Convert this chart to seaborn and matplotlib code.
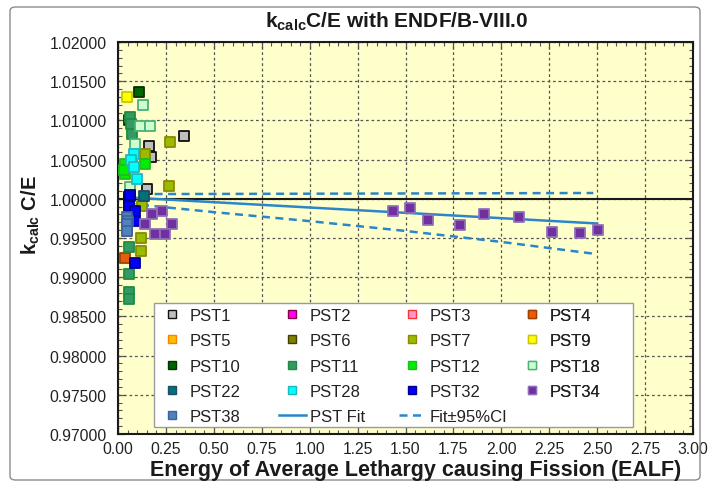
import matplotlib
matplotlib.use("Agg")
import matplotlib.pyplot as plt
import seaborn as sns
import pandas as pd
from matplotlib.lines import Line2D
from matplotlib.patches import Rectangle, FancyBboxPatch
from matplotlib.ticker import MultipleLocator, FormatStrFormatter

# ---------------- data ----------------
series_names = ["PST1", "PST2", "PST3", "PST4", "PST5", "PST6", "PST7", "PST9",
                "PST10", "PST11", "PST12", "PST18", "PST22", "PST28", "PST32",
                "PST34", "PST38"]

pst1_x = [0.346, 0.160, 0.170, 0.151]
pst1_y = [1.00805, 1.00677, 1.00529, 1.00125]
pst2_x = [0.059]
pst2_y = [0.99912]
pst3_x = [0.047]
pst3_y = [0.99679]
pst4_x = [0.038]
pst4_y = [0.99245]
pst5_x = [0.047]
pst5_y = [0.99593]
pst6_x = [0.059]
pst6_y = [1.00019]
pst7_x = [0.271, 0.142, 0.264, 0.125, 0.120, 0.122]
pst7_y = [1.00720, 1.00571, 1.00167, 0.99912, 0.99495, 0.99338]
pst9_x = [0.045]
pst9_y = [1.01302]
pst10_x = [0.111, 0.058]
pst10_y = [1.01366, 1.01010]
pst11_x = [0.063, 0.071, 0.066, 0.055, 0.055, 0.055, 0.055]
pst11_y = [1.01040, 1.00827, 1.00960, 0.99381, 0.99041, 0.98807, 0.98722]
pst12_x = [0.038, 0.038, 0.143, 0.030]
pst12_y = [1.00444, 1.00316, 1.00444, 1.00370]
pst18_x = [0.132, 0.115, 0.167, 0.090, 0.064]
pst18_y = [1.01200, 1.00925, 1.00925, 1.00699, 1.00147]
pst22_x = [0.134, 0.062]
pst22_y = [1.00040, 1.00030]
pst28_x = [0.082, 0.070, 0.086, 0.099]
pst28_y = [1.00571, 1.00500, 1.00401, 1.00253]
pst32_x = [0.059, 0.059, 0.090, 0.090, 0.089, 0.062]
pst32_y = [1.00019, 0.99912, 0.99848, 0.99721, 0.99181, 1.00050]
pst34_x = [0.177, 0.229, 0.142, 0.282, 0.195, 0.247,
           1.436, 1.523, 1.619, 1.784, 1.909, 2.093, 2.266, 2.410, 2.502]
pst34_y = [0.99806, 0.99848, 0.99679, 0.99679, 0.99551, 0.99551,
           0.99848, 0.99879, 0.99730, 0.99670, 0.99806, 0.99764, 0.99580, 0.99564, 0.99606]
pst38_x = [0.047, 0.050, 0.047, 0.047]
pst38_y = [0.99764, 0.99720, 0.99679, 0.99593]

fit_x = [0.05, 2.50]
fit_y = [1.00018, 0.99685]
ci_x = [0.05, 0.50, 1.00, 1.50, 2.00, 2.48]
ci_upper = [1.00060, 1.00062, 1.00065, 1.00068, 1.00071, 1.00074]
ci_lower = [0.99940, 0.99830, 0.99715, 0.99590, 0.99450, 0.99300]

x_ticks = [0.00, 0.25, 0.50, 0.75, 1.00, 1.25, 1.50, 1.75, 2.00, 2.25, 2.50, 2.75, 3.00]
y_ticks = [0.970, 0.975, 0.980, 0.985, 0.990, 0.995, 1.000, 1.005, 1.010, 1.015, 1.020]

series_x = [pst1_x, pst2_x, pst3_x, pst4_x, pst5_x, pst6_x, pst7_x, pst9_x, pst10_x,
            pst11_x, pst12_x, pst18_x, pst22_x, pst28_x, pst32_x, pst34_x, pst38_x]
series_y = [pst1_y, pst2_y, pst3_y, pst4_y, pst5_y, pst6_y, pst7_y, pst9_y, pst10_y,
            pst11_y, pst12_y, pst18_y, pst22_y, pst28_y, pst32_y, pst34_y, pst38_y]

# ---------------- styles ----------------
face = {"PST1": "#BFBFBF", "PST2": "#FF00FF", "PST3": "#FF99CC", "PST4": "#E85C0C",
        "PST5": "#FFC000", "PST6": "#7F7F00", "PST7": "#9BBB00", "PST9": "#FFFF00",
        "PST10": "#006400", "PST11": "#339966", "PST12": "#00EE00", "PST18": "#CCFFCC",
        "PST22": "#00707A", "PST28": "#00FFFF", "PST32": "#0000FF", "PST34": "#7030A0",
        "PST38": "#4F81BD"}
edge = {"PST1": "#111111", "PST2": "#8B0040", "PST3": "#FF3030", "PST4": "#A04000",
        "PST5": "#FF7F00", "PST6": "#3F3F00", "PST7": "#8A8A00", "PST9": "#C8C800",
        "PST10": "#003300", "PST11": "#1E8C3C", "PST12": "#22BB22", "PST18": "#4CB07A",
        "PST22": "#1F4E60", "PST28": "#20B8C0", "PST32": "#00008B", "PST34": "#9070B8",
        "PST38": "#3A62A0"}
fit_color = "#2B86C9"

plt.rcParams["font.family"] = ["Liberation Sans", "DejaVu Sans"]
plt.rcParams["mathtext.fontset"] = "custom"
plt.rcParams["mathtext.rm"] = "Liberation Sans"
plt.rcParams["mathtext.bf"] = "Liberation Sans:bold"
plt.rcParams["mathtext.it"] = "Liberation Sans:italic"

fig = plt.figure(figsize=(7.10, 4.89), dpi=100)
ax = fig.add_axes([118 / 710, 1 - 435 / 489, 575 / 710, 392 / 489])
ax.set_facecolor("#FFFFCC")

# outer chart border
fig.patches.append(FancyBboxPatch((10 / 710, 8 / 489), 690 / 710, 473 / 489,
                                  boxstyle="round,pad=0,rounding_size=0.008",
                                  transform=fig.transFigure, fill=False,
                                  edgecolor="#8C8C8C", linewidth=1.0))

ax.set_xlim(0, 3.0)
ax.set_ylim(0.970, 1.020)

# grid
ax.set_xticks(x_ticks)
ax.set_yticks(y_ticks)
ax.grid(True, which="major", color="#555555", linestyle=(0, (2.2, 2.2)), linewidth=0.9)
ax.set_axisbelow(True)

# reference line at 1.0
sns.lineplot(x=[0.0, 3.0], y=[1.0, 1.0], ax=ax, color="#1A1A1A", linewidth=1.5,
             zorder=2, legend=False)
# fit and CI
sns.lineplot(x=fit_x, y=fit_y, ax=ax, color=fit_color, linewidth=1.8, zorder=2.2,
             legend=False, estimator=None, sort=False)
sns.lineplot(x=ci_x, y=ci_upper, ax=ax, color=fit_color, linewidth=1.8, zorder=2.2,
             legend=False, estimator=None, sort=False)
sns.lineplot(x=ci_x, y=ci_lower, ax=ax, color=fit_color, linewidth=1.8, zorder=2.2,
             legend=False, estimator=None, sort=False)
for ln in ax.get_lines()[2:4]:
    ln.set_linestyle((0, (3.2, 2.2)))

# scatter series
for name, xs, ys in zip(series_names, series_x, series_y):
    df = pd.DataFrame({"x": xs, "y": ys})
    sns.scatterplot(data=df, x="x", y="y", ax=ax, marker="s", s=58,
                    color=face[name], edgecolor=edge[name], linewidth=1.3,
                    zorder=3, legend=False)

ax.set_xlabel("")
ax.set_ylabel("")

# ticks
ax.xaxis.set_major_formatter(FormatStrFormatter("%.2f"))
ax.yaxis.set_major_formatter(FormatStrFormatter("%.5f"))
ax.xaxis.set_minor_locator(MultipleLocator(0.05))
ax.yaxis.set_minor_locator(MultipleLocator(0.001))
ax.tick_params(which="both", direction="in", top=True, right=True,
               colors="#555555", labelcolor="#222222")
ax.tick_params(which="major", length=5, width=0.9, labelsize=11.3)
ax.tick_params(axis="y", which="major", pad=8)
ax.tick_params(axis="x", which="major", pad=5)
ax.tick_params(which="minor", length=3, width=0.8)
for sp in ax.spines.values():
    sp.set_linewidth(1.5)
    sp.set_color("#1A1A1A")

# titles
fig.text(397 / 710, 1 - 22 / 489, r"$\mathbf{k_{calc}}$C/E with ENDF/B-VIII.0",
         ha="center", va="center", fontsize=15, fontweight="bold", color="#1A1A1A")
fig.text(31 / 710, 1 - 215 / 489, r"$\mathbf{k_{calc}}$ C/E", rotation=90,
         ha="center", va="center", fontsize=14.5, fontweight="bold", color="#1A1A1A")
fig.text(416 / 710, 1 - 471 / 489, "Energy of Average Lethargy causing Fission (EALF)",
         ha="center", va="center", fontsize=15.5, fontweight="bold", color="#1A1A1A")

# legend: white box + 4 column legends
box = Rectangle((0.0626, 0.018), 0.8334, 0.316, transform=ax.transAxes,
                facecolor="white", edgecolor="#9A9A9A", linewidth=1.0, zorder=5)
ax.add_patch(box)


def mk(name):
    return Line2D([], [], linestyle="none", marker="s", markersize=6.0,
                  markerfacecolor=face[name], markeredgecolor=edge[name],
                  markeredgewidth=1.0)


fit_handle = Line2D([], [], color=fit_color, linewidth=1.8)
ci_handle = Line2D([], [], color=fit_color, linewidth=1.8, linestyle=(0, (3.2, 2.2)))

columns = [
    [(mk("PST1"), "PST1"), (mk("PST5"), "PST5"), (mk("PST10"), "PST10"),
     (mk("PST22"), "PST22"), (mk("PST38"), "PST38")],
    [(mk("PST2"), "PST2"), (mk("PST6"), "PST6"), (mk("PST11"), "PST11"),
     (mk("PST28"), "PST28"), (fit_handle, "PST Fit")],
    [(mk("PST3"), "PST3"), (mk("PST7"), "PST7"), (mk("PST12"), "PST12"),
     (mk("PST32"), "PST32"), (ci_handle, "Fit\u00b195%CI")],
    [(mk("PST4"), "PST4"), (mk("PST9"), "PST9"), (mk("PST18"), "PST18"),
     (mk("PST34"), "PST34")],
]
col_x = [0.0713, 0.2800, 0.4887, 0.6974]
for cx, col in zip(col_x, columns):
    hs = [h for h, _ in col]
    ls = [l for _, l in col]
    leg = ax.legend(hs, ls, loc="upper left", bbox_to_anchor=(cx, 0.3215),
                    bbox_transform=ax.transAxes, frameon=False, fontsize=12,
                    borderpad=0, borderaxespad=0, handlelength=1.6,
                    handletextpad=0.25, labelspacing=0.62)
    leg.set_zorder(6)
    for t in leg.get_texts():
        t.set_color("#222222")
    ax.add_artist(leg)

fig.savefig("out.png", dpi=100, facecolor="white")
